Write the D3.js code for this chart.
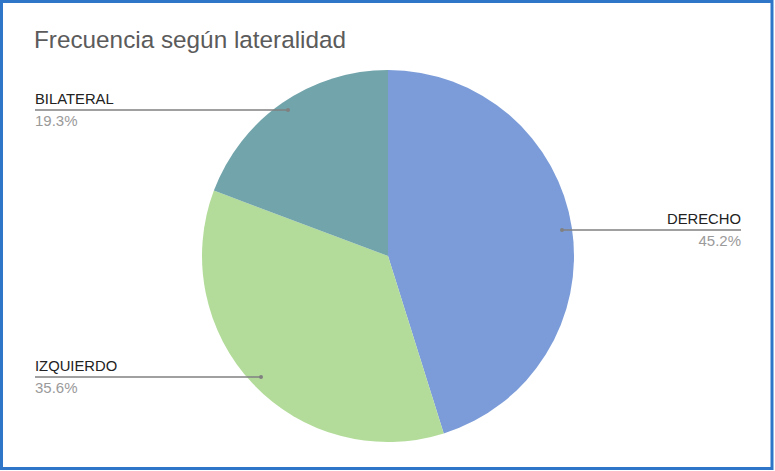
<!DOCTYPE html>
<html lang="es">
  <head>
    <meta charset="utf-8" />
    <title>Frecuencia según lateralidad</title>
    <script src="https://d3js.org/d3.v7.min.js"></script>
    <style type="text/css">
      body {
        margin: 0;
        background: #fff;
      }
      svg {
        display: block;
        font-family: Arial, "Liberation Sans", sans-serif;
      }
    </style>
  </head>
  <body>
    <script type="text/javascript">
      //Width and height
      var w = 775;
      var h = 471;

      //Data
      var categories = ["DERECHO", "IZQUIERDO", "BILATERAL"];
      var values = [45.2, 35.6, 19.3];
      var percentLabels = ["45.2%", "35.6%", "19.3%"];
      var colors = ["#7b9cd8", "#b3dc9a", "#72a4ab"];

      var cx = 388;
      var cy = 256;
      var r = 186;

      var svg = d3
        .select("body")
        .append("svg")
        .attr("width", w)
        .attr("height", h);

      //Frame
      svg
        .append("rect")
        .attr("x", 1.5)
        .attr("y", 1.5)
        .attr("width", w - 4.5)
        .attr("height", h - 4)
        .attr("fill", "#fff")
        .attr("stroke", "#2f76c8")
        .attr("stroke-width", 3);

      //Title
      svg
        .append("text")
        .attr("x", 34)
        .attr("y", 48)
        .attr("font-size", 24.3)
        .attr("fill", "#5b5b5b")
        .text("Frecuencia según lateralidad");

      var pie = d3
        .pie()
        .sort(null)
        .value(function (d) {
          return d;
        });

      var arcs = pie(values);

      var arc = d3.arc().innerRadius(0).outerRadius(r);

      var g = svg
        .append("g")
        .attr("transform", "translate(" + cx + "," + cy + ")");

      g.selectAll("path")
        .data(arcs)
        .enter()
        .append("path")
        .attr("d", arc)
        .attr("fill", function (d, i) {
          return colors[i];
        });

      //Label layout: side, line height and dot offset for each slice
      var labelInfo = [
        { side: "right", y: 230, end: 741, dot: 174 },
        { side: "left", y: 377, end: 35, dot: 127 },
        { side: "left", y: 110, end: 35, dot: 100 },
      ];

      arcs.forEach(function (d, i) {
        var info = labelInfo[i];
        var px = cx + (info.side === "right" ? info.dot : -info.dot);

        svg
          .append("line")
          .attr("x1", px)
          .attr("y1", info.y)
          .attr("x2", info.end)
          .attr("y2", info.y)
          .attr("stroke", "#808080")
          .attr("stroke-width", 1.4);

        svg
          .append("circle")
          .attr("cx", px)
          .attr("cy", info.y)
          .attr("r", 2)
          .attr("fill", "#808080");

        var anchor = info.side === "right" ? "end" : "start";

        svg
          .append("text")
          .attr("x", info.end)
          .attr("y", info.y - 6)
          .attr("text-anchor", anchor)
          .attr("font-size", 14.8)
          .attr("fill", "#222")
          .text(categories[i]);

        svg
          .append("text")
          .attr("x", info.end)
          .attr("y", info.y + 16)
          .attr("text-anchor", anchor)
          .attr("font-size", 15)
          .attr("fill", "#9a9a9a")
          .text(percentLabels[i]);
      });
    </script>
  </body>
</html>
